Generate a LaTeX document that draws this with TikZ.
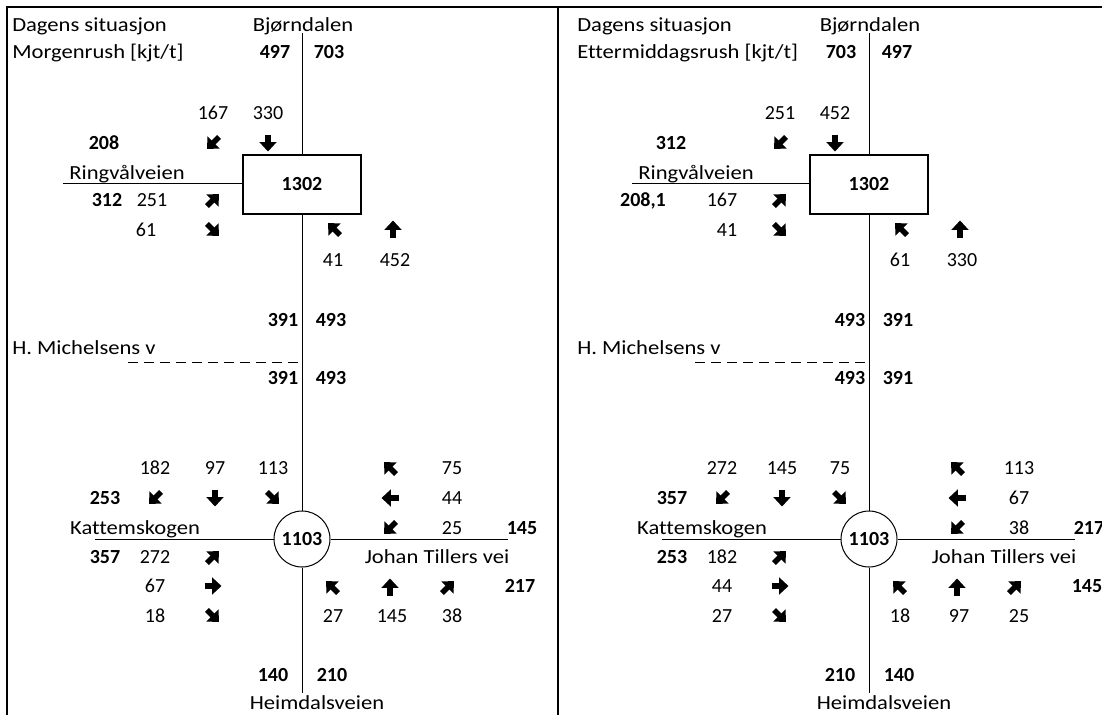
\documentclass[tikz,border=0pt]{standalone}
\usepackage{fontspec}
\setmainfont{Carlito}[Ligatures=NoCommon]
\newfontfamily\wide{Carlito}[FakeStretch=1.13,Ligatures=NoCommon]
\usetikzlibrary{arrows.meta,positioning}

\begin{document}
\begin{tikzpicture}[x=0.75pt,y=-0.75pt,
    every node/.style={font=\fontsize{15}{18}\selectfont},
    txt/.style={inner sep=0pt,anchor=base},
    streetname/.style={txt,font=\fontsize{15}{18}\selectfont\wide},
    lbl/.style={inner sep=0pt,anchor=base west,font=\fontsize{15}{18}\selectfont\wide},
    vol/.style={txt,font=\fontsize{15}{18}\selectfont\bfseries},
    road/.style={line width=0.75pt},
    frame/.style={line width=1.5pt},
    hub/.style={draw,line width=1.5pt,minimum width=89pt,minimum height=44pt,
      font=\fontsize{15}{18}\selectfont\bfseries},
    rbt/.style={circle,draw,line width=0.75pt,minimum size=42pt,inner sep=0pt,
      font=\fontsize{15}{18}\selectfont\bfseries},
    turn/.pic={\draw[line width=4.2pt,-{Triangle[length=7pt,width=12.5pt]}] (-8.5,0) -- (8.5,0);}]
  \useasboundingbox (0,0) rectangle (1102,715);
  \draw[frame] (7,715) -- (7,6.5) -- (1102,6.5);
  \draw[frame] (557.5,6.5) -- (557.5,715);
  % morgenrush
  \begin{scope}
    \node[lbl] (mTitle) at (12,31) {Dagens situasjon};
    \node[lbl] (mRush) at (12,58) {Morgenrush [kjt/t]};
    \node[streetname] (mBjo) at (303,31) {Bjørndalen};
    \node[vol] (mBjoIn) at (275,58) {497};
    \node[vol] (mBjoOut) at (329,58) {703};
    \node[hub] (mBox) at (302,184.5) {1302};
    \node[rbt] (mRbt) at (302,539) {1103};
    \coordinate (mTop) at (302,33);
    \coordinate (mBot) at (302,693);
    \coordinate (mRing) at (63,183);
    \coordinate (mKat) at (95,539);
    \coordinate (mJoh) at (508,539);
    \coordinate (mHmv) at (128,362);
    \draw[road] (mTop) -- (mBox.north);
    \draw[road] (mBox.south) -- (mRbt.north);
    \draw[road] (mRbt.south) -- (mBot);
    \draw[road] (mRing) -- (mRing -| mBox.west);
    \draw[road] (mKat) -- (mRbt.west);
    \draw[road] (mRbt.east) -- (mJoh);
    \draw[road,dash pattern=on 7.5pt off 4.5pt] (mHmv) -- (mHmv -| mRbt.north);
    % Ringvaalveien
    \node[txt] at (213,119) {167};
    \node[txt] at (268,119) {330};
    \node[vol] at (104,149) {208};
    \node[streetname] (mRingName) at (127,179) {Ringvålveien};
    \node[vol] at (107,206) {312};
    \node[txt] at (152,206) {251};
    \node[txt] at (146,236) {61};
    \node[txt] at (333,266) {41};
    \node[txt] at (395,266) {452};
    \pic[rotate=-135] at (213,143) {turn};
    \pic[rotate=-90] at (268,143) {turn};
    \pic[rotate=45] at (213,200) {turn};
    \pic[rotate=-45] at (213,230) {turn};
    \pic[rotate=135] at (334,229) {turn};
    \pic[rotate=90] at (393,229) {turn};
    % H. Michelsens v
    \node[vol] at (283,326) {391};
    \node[vol] at (331,326) {493};
    \node[lbl] (mHmvName) at (12,354) {H. Michelsens v};
    \node[vol] at (283,384) {391};
    \node[vol] at (331,384) {493};
    % rundkjoering
    \node[txt] at (155,474) {182};
    \node[txt] at (215,474) {97};
    \node[txt] at (273,474) {113};
    \node[vol] at (105,504) {253};
    \node[streetname] (mKatName) at (135,534) {Kattemskogen};
    \node[vol] at (105,563) {357};
    \node[txt] at (155,563) {272};
    \node[txt] at (155,592) {67};
    \node[txt] at (155,622) {18};
    \node[txt] at (452,474) {75};
    \node[txt] at (452,504) {44};
    \node[txt] at (452,534) {25};
    \node[vol] at (522,534) {145};
    \node[streetname] (mJohName) at (437,563) {Johan Tillers vei};
    \node[vol] at (520,592) {217};
    \node[txt] at (333,622) {27};
    \node[txt] at (392,622) {145};
    \node[txt] at (452,622) {38};
    \node[vol] at (273,681) {140};
    \node[vol] at (332,681) {210};
    \node[streetname] (mHeim) at (317,709) {Heimdalsveien};
    \pic[rotate=-135] at (155,498) {turn};
    \pic[rotate=-90] at (215,498) {turn};
    \pic[rotate=-45] at (273,498) {turn};
    \pic[rotate=45] at (213,557) {turn};
    \pic[rotate=0] at (213,586) {turn};
    \pic[rotate=-45] at (213,616) {turn};
    \pic[rotate=135] at (390,468) {turn};
    \pic[rotate=180] at (390,498) {turn};
    \pic[rotate=-135] at (390,528) {turn};
    \pic[rotate=135] at (332,587) {turn};
    \pic[rotate=90] at (390,587) {turn};
    \pic[rotate=45] at (448,587) {turn};
  \end{scope}
  % ettermiddagsrush
  \begin{scope}[shift={(567,0)}]
    \node[lbl] (eTitle) at (10,31) {Dagens situasjon};
    \node[lbl] (eRush) at (10,58) {Ettermiddagsrush [kjt/t]};
    \node[streetname] (eBjo) at (303,31) {Bjørndalen};
    \node[vol] (eBjoIn) at (274,58) {703};
    \node[vol] (eBjoOut) at (330,58) {497};
    \node[hub] (eBox) at (302,184.5) {1302};
    \node[rbt] (eRbt) at (302,539) {1103};
    \coordinate (eTop) at (302,33);
    \coordinate (eBot) at (302,693);
    \coordinate (eRing) at (65,183);
    \coordinate (eKat) at (95,539);
    \coordinate (eJoh) at (508,539);
    \coordinate (eHmv) at (128,362);
    \draw[road] (eTop) -- (eBox.north);
    \draw[road] (eBox.south) -- (eRbt.north);
    \draw[road] (eRbt.south) -- (eBot);
    \draw[road] (eRing) -- (eRing -| eBox.west);
    \draw[road] (eKat) -- (eRbt.west);
    \draw[road] (eRbt.east) -- (eJoh);
    \draw[road,dash pattern=on 7.5pt off 4.5pt] (eHmv) -- (eHmv -| eRbt.north);
    % Ringvaalveien
    \node[txt] at (213,119) {251};
    \node[txt] at (268,119) {452};
    \node[vol] at (104,149) {312};
    \node[streetname] (eRingName) at (129,179) {Ringvålveien};
    \node[vol] at (76,206) {208,1};
    \node[txt] at (155,206) {167};
    \node[txt] at (160,236) {41};
    \node[txt] at (333,266) {61};
    \node[txt] at (395,266) {330};
    \pic[rotate=-135] at (213,143) {turn};
    \pic[rotate=-90] at (268,143) {turn};
    \pic[rotate=45] at (213,200) {turn};
    \pic[rotate=-45] at (213,230) {turn};
    \pic[rotate=135] at (334,229) {turn};
    \pic[rotate=90] at (393,229) {turn};
    % H. Michelsens v
    \node[vol] at (283,326) {493};
    \node[vol] at (331,326) {391};
    \node[lbl] (eHmvName) at (10,354) {H. Michelsens v};
    \node[vol] at (283,384) {493};
    \node[vol] at (331,384) {391};
    % rundkjoering
    \node[txt] at (155,474) {272};
    \node[txt] at (215,474) {145};
    \node[txt] at (273,474) {75};
    \node[vol] at (105,504) {357};
    \node[streetname] (eKatName) at (135,534) {Kattemskogen};
    \node[vol] at (105,563) {253};
    \node[txt] at (155,563) {182};
    \node[txt] at (155,592) {44};
    \node[txt] at (155,622) {27};
    \node[txt] at (452,474) {113};
    \node[txt] at (452,504) {67};
    \node[txt] at (452,534) {38};
    \node[vol] at (522,534) {217};
    \node[streetname] (eJohName) at (437,563) {Johan Tillers vei};
    \node[vol] at (520,592) {145};
    \node[txt] at (333,622) {18};
    \node[txt] at (392,622) {97};
    \node[txt] at (452,622) {25};
    \node[vol] at (273,681) {210};
    \node[vol] at (332,681) {140};
    \node[streetname] (eHeim) at (317,709) {Heimdalsveien};
    \pic[rotate=-135] at (155,498) {turn};
    \pic[rotate=-90] at (215,498) {turn};
    \pic[rotate=-45] at (273,498) {turn};
    \pic[rotate=45] at (213,557) {turn};
    \pic[rotate=0] at (213,586) {turn};
    \pic[rotate=-45] at (213,616) {turn};
    \pic[rotate=135] at (390,468) {turn};
    \pic[rotate=180] at (390,498) {turn};
    \pic[rotate=-135] at (390,528) {turn};
    \pic[rotate=135] at (332,587) {turn};
    \pic[rotate=90] at (390,587) {turn};
    \pic[rotate=45] at (448,587) {turn};
  \end{scope}
\end{tikzpicture}
\end{document}
